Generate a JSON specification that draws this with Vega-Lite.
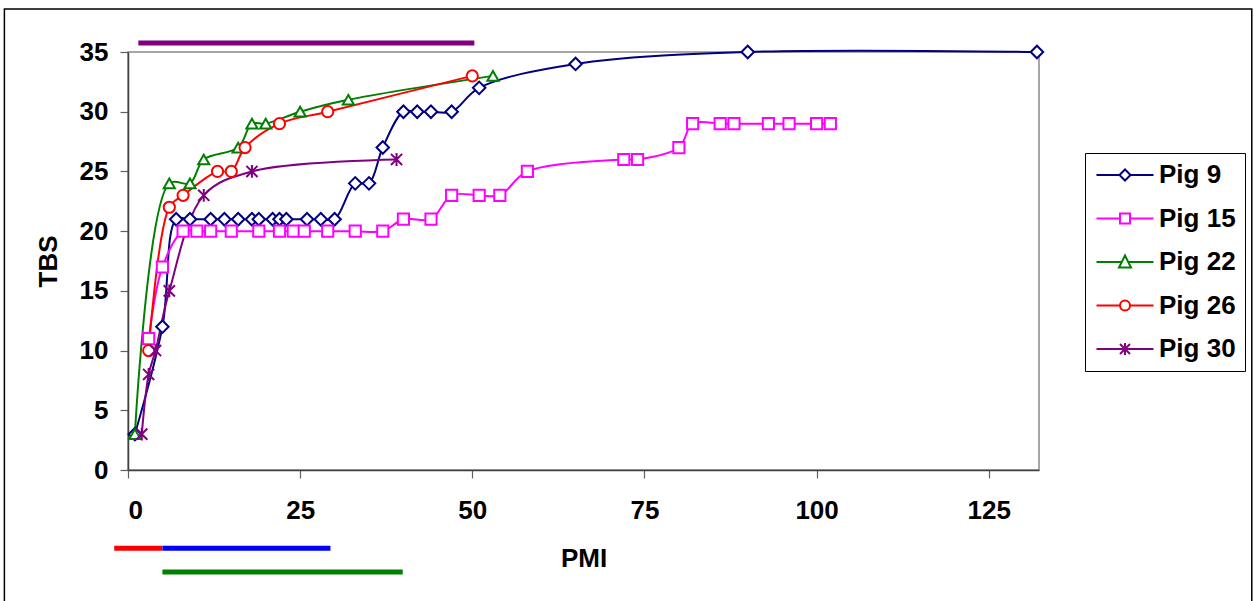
{
  "$schema": "https://vega.github.io/schema/vega-lite/v6.json",
  "width": 911,
  "height": 418,
  "autosize": {"type": "none"},
  "padding": {"left": 128, "top": 52, "right": 215, "bottom": 131},
  "background": "white",
  "config": {
    "view": {"stroke": "#8a8a8a", "strokeWidth": 1.5},
    "font": "Liberation Sans",
    "axis": {
      "grid": false,
      "labelFont": "Liberation Sans",
      "labelFontSize": 26,
      "labelFontWeight": "bold",
      "labelColor": "black",
      "titleFont": "Liberation Sans",
      "titleFontSize": 26,
      "titleFontWeight": "bold",
      "titleColor": "black",
      "domainColor": "#404040",
      "domainWidth": 1.5,
      "tickColor": "#606060",
      "tickWidth": 1.2,
      "tickSize": 8
    },
    "legend": {
      "title": null,
      "orient": "none",
      "legendX": 957,
      "legendY": 101,
      "strokeColor": "black",
      "fillColor": "white",
      "padding": 9,
      "symbolSize": 100,
      "symbolStrokeWidth": 2,
      "symbolOffset": 18,
      "labelOffset": 21,
      "labelFont": "Liberation Sans",
      "labelFontSize": 26,
      "labelFontWeight": "bold",
      "labelColor": "black",
      "rowPadding": 17.5
    }
  },
  "resolve": {"scale": {"shape": "independent", "color": "independent"}},
  "datasets": {
    "pigs": [
      {"pig": "Pig 9", "pmi": 1, "tbs": 3},
      {"pig": "Pig 9", "pmi": 5, "tbs": 12},
      {"pig": "Pig 9", "pmi": 7, "tbs": 21},
      {"pig": "Pig 9", "pmi": 9, "tbs": 21},
      {"pig": "Pig 9", "pmi": 12, "tbs": 21},
      {"pig": "Pig 9", "pmi": 14, "tbs": 21},
      {"pig": "Pig 9", "pmi": 16, "tbs": 21},
      {"pig": "Pig 9", "pmi": 18, "tbs": 21},
      {"pig": "Pig 9", "pmi": 19, "tbs": 21},
      {"pig": "Pig 9", "pmi": 21, "tbs": 21},
      {"pig": "Pig 9", "pmi": 22, "tbs": 21},
      {"pig": "Pig 9", "pmi": 23, "tbs": 21},
      {"pig": "Pig 9", "pmi": 26, "tbs": 21},
      {"pig": "Pig 9", "pmi": 28, "tbs": 21},
      {"pig": "Pig 9", "pmi": 30, "tbs": 21},
      {"pig": "Pig 9", "pmi": 33, "tbs": 24},
      {"pig": "Pig 9", "pmi": 35, "tbs": 24},
      {"pig": "Pig 9", "pmi": 37, "tbs": 27},
      {"pig": "Pig 9", "pmi": 40, "tbs": 30},
      {"pig": "Pig 9", "pmi": 42, "tbs": 30},
      {"pig": "Pig 9", "pmi": 44, "tbs": 30},
      {"pig": "Pig 9", "pmi": 47, "tbs": 30},
      {"pig": "Pig 9", "pmi": 51, "tbs": 32},
      {"pig": "Pig 9", "pmi": 65, "tbs": 34},
      {"pig": "Pig 9", "pmi": 90, "tbs": 35},
      {"pig": "Pig 9", "pmi": 132, "tbs": 35},
      {"pig": "Pig 15", "pmi": 3, "tbs": 11},
      {"pig": "Pig 15", "pmi": 5, "tbs": 17},
      {"pig": "Pig 15", "pmi": 8, "tbs": 20},
      {"pig": "Pig 15", "pmi": 10, "tbs": 20},
      {"pig": "Pig 15", "pmi": 12, "tbs": 20},
      {"pig": "Pig 15", "pmi": 15, "tbs": 20},
      {"pig": "Pig 15", "pmi": 19, "tbs": 20},
      {"pig": "Pig 15", "pmi": 22, "tbs": 20},
      {"pig": "Pig 15", "pmi": 24, "tbs": 20},
      {"pig": "Pig 15", "pmi": 25.6, "tbs": 20},
      {"pig": "Pig 15", "pmi": 29, "tbs": 20},
      {"pig": "Pig 15", "pmi": 33, "tbs": 20},
      {"pig": "Pig 15", "pmi": 37, "tbs": 20},
      {"pig": "Pig 15", "pmi": 40, "tbs": 21},
      {"pig": "Pig 15", "pmi": 44, "tbs": 21},
      {"pig": "Pig 15", "pmi": 47, "tbs": 23},
      {"pig": "Pig 15", "pmi": 51, "tbs": 23},
      {"pig": "Pig 15", "pmi": 54, "tbs": 23},
      {"pig": "Pig 15", "pmi": 58, "tbs": 25},
      {"pig": "Pig 15", "pmi": 72, "tbs": 26},
      {"pig": "Pig 15", "pmi": 74, "tbs": 26},
      {"pig": "Pig 15", "pmi": 80, "tbs": 27},
      {"pig": "Pig 15", "pmi": 82, "tbs": 29},
      {"pig": "Pig 15", "pmi": 86, "tbs": 29},
      {"pig": "Pig 15", "pmi": 88, "tbs": 29},
      {"pig": "Pig 15", "pmi": 93, "tbs": 29},
      {"pig": "Pig 15", "pmi": 96, "tbs": 29},
      {"pig": "Pig 15", "pmi": 100, "tbs": 29},
      {"pig": "Pig 15", "pmi": 102, "tbs": 29},
      {"pig": "Pig 22", "pmi": 1, "tbs": 3},
      {"pig": "Pig 22", "pmi": 6, "tbs": 24},
      {"pig": "Pig 22", "pmi": 9, "tbs": 24},
      {"pig": "Pig 22", "pmi": 11, "tbs": 26},
      {"pig": "Pig 22", "pmi": 16, "tbs": 27},
      {"pig": "Pig 22", "pmi": 18, "tbs": 29},
      {"pig": "Pig 22", "pmi": 20, "tbs": 29},
      {"pig": "Pig 22", "pmi": 25, "tbs": 30},
      {"pig": "Pig 22", "pmi": 32, "tbs": 31},
      {"pig": "Pig 22", "pmi": 53, "tbs": 33},
      {"pig": "Pig 26", "pmi": 3, "tbs": 10},
      {"pig": "Pig 26", "pmi": 6, "tbs": 22},
      {"pig": "Pig 26", "pmi": 8, "tbs": 23},
      {"pig": "Pig 26", "pmi": 13, "tbs": 25},
      {"pig": "Pig 26", "pmi": 15, "tbs": 25},
      {"pig": "Pig 26", "pmi": 17, "tbs": 27},
      {"pig": "Pig 26", "pmi": 22, "tbs": 29},
      {"pig": "Pig 26", "pmi": 29, "tbs": 30},
      {"pig": "Pig 26", "pmi": 50, "tbs": 33},
      {"pig": "Pig 30", "pmi": 2, "tbs": 3},
      {"pig": "Pig 30", "pmi": 3, "tbs": 8},
      {"pig": "Pig 30", "pmi": 4, "tbs": 10},
      {"pig": "Pig 30", "pmi": 6, "tbs": 15},
      {"pig": "Pig 30", "pmi": 11, "tbs": 23},
      {"pig": "Pig 30", "pmi": 18, "tbs": 25},
      {"pig": "Pig 30", "pmi": 39, "tbs": 26}
    ]
  },
  "layer": [
    {
      "data": {"values": [{"part": "frame"}]},
      "mark": {"type": "rect", "fill": null, "fillOpacity": 0, "stroke": "black", "strokeWidth": 1.5, "clip": false},
      "encoding": {
        "x": {"datum": -17.95, "type": "quantitative"},
        "x2": {"datum": 163.2},
        "y": {"datum": 38.6, "type": "quantitative"},
        "y2": {"datum": -12}
      }
    },
    {
      "data": {"values": [{"start": 1.5, "end": 50.3}]},
      "mark": {"type": "rule", "color": "#800080", "strokeWidth": 5, "strokeCap": "butt", "clip": false},
      "encoding": {
        "x": {"field": "start", "type": "quantitative"},
        "x2": {"field": "end"},
        "y": {"datum": 35.75, "type": "quantitative"}
      }
    },
    {
      "data": {"values": [{"start": -2, "end": 5}]},
      "mark": {"type": "rule", "color": "#FF0000", "strokeWidth": 5, "strokeCap": "butt", "clip": false},
      "encoding": {
        "x": {"field": "start", "type": "quantitative"},
        "x2": {"field": "end"},
        "y": {"datum": -6.55, "type": "quantitative"}
      }
    },
    {
      "data": {"values": [{"start": 5, "end": 29.4}]},
      "mark": {"type": "rule", "color": "#0000FF", "strokeWidth": 5, "strokeCap": "butt", "clip": false},
      "encoding": {
        "x": {"field": "start", "type": "quantitative"},
        "x2": {"field": "end"},
        "y": {"datum": -6.55, "type": "quantitative"}
      }
    },
    {
      "data": {"values": [{"start": 5, "end": 39.9}]},
      "mark": {"type": "rule", "color": "#008000", "strokeWidth": 5, "strokeCap": "butt", "clip": false},
      "encoding": {
        "x": {"field": "start", "type": "quantitative"},
        "x2": {"field": "end"},
        "y": {"datum": -8.55, "type": "quantitative"}
      }
    },
    {
      "data": {"name": "pigs"},
      "mark": {"type": "line", "interpolate": "catmull-rom", "strokeWidth": 2},
      "encoding": {
        "x": {
          "field": "pmi", "type": "quantitative",
          "scale": {"domain": [0, 132.3], "nice": false, "zero": false},
          "axis": {"values": [0, 25, 50, 75, 100, 125], "title": "PMI", "labelPadding": 19, "titlePadding": 22}
        },
        "y": {
          "field": "tbs", "type": "quantitative",
          "scale": {"domain": [0, 35], "nice": false},
          "axis": {"values": [0, 5, 10, 15, 20, 25, 30, 35], "title": "TBS", "labelPadding": 12, "titlePadding": 18}
        },
        "stroke": {
          "field": "pig", "type": "nominal",
          "scale": {"domain": ["Pig 30", "Pig 26", "Pig 22", "Pig 15", "Pig 9"], "range": ["#800080", "#FF0000", "#008000", "#FF00FF", "#000080"]},
          "legend": null
        }
      }
    },
    {
      "data": {"name": "pigs"},
      "mark": {"type": "point", "filled": false, "fill": "white", "strokeWidth": 2, "size": 125, "opacity": 1},
      "encoding": {
        "x": {"field": "pmi", "type": "quantitative"},
        "y": {"field": "tbs", "type": "quantitative"},
        "stroke": {
          "field": "pig", "type": "nominal",
          "scale": {"domain": ["Pig 30", "Pig 26", "Pig 22", "Pig 15", "Pig 9"], "range": ["#800080", "#FF0000", "#008000", "#FF00FF", "#000080"]},
          "legend": null
        },
        "shape": {
          "field": "pig", "type": "nominal",
          "scale": {"domain": ["Pig 30", "Pig 26", "Pig 22", "Pig 15", "Pig 9"], "range": ["M0,-1.15V1.15M-1,-1L1,1M-1,1L1,-1", "circle", "triangle-up", "square", "M-1.12,0L0,-1.12L1.12,0L0,1.12Z"]},
          "legend": null
        }
      }
    },
    {
      "data": {"name": "pigs"},
      "transform": [{"filter": "false"}],
      "mark": {"type": "point", "filled": false, "fill": "white", "strokeWidth": 2, "size": 100, "opacity": 1},
      "encoding": {
        "x": {"field": "pmi", "type": "quantitative"},
        "y": {"field": "tbs", "type": "quantitative"},
        "color": {
          "field": "pig", "type": "nominal",
          "scale": {"domain": ["Pig 9", "Pig 15", "Pig 22", "Pig 26", "Pig 30"], "range": ["#000080", "#FF00FF", "#008000", "#FF0000", "#800080"]}
        },
        "shape": {
          "field": "pig", "type": "nominal",
          "scale": {"domain": ["Pig 9", "Pig 15", "Pig 22", "Pig 26", "Pig 30"], "range": ["M-5.7,0H-1.1M1.1,0H5.7M-1.1,0L0,-1.1L1.1,0L0,1.1Z", "M-5.7,0H-1M1,0H5.7M-1,-1H1V1H-1Z", "M-5.7,0H-0.6M0.6,0H5.7M0,-1.3L1.2,1.1L-1.2,1.1Z", "M-5.7,0H-1M1,0H5.7M-1,0A1,1 0 1,1 1,0A1,1 0 1,1 -1,0Z", "M-5.7,0H5.7M0,-1.2V1.2M-1,-1L1,1M-1,1L1,-1"]}
        }
      }
    }
  ]
}
